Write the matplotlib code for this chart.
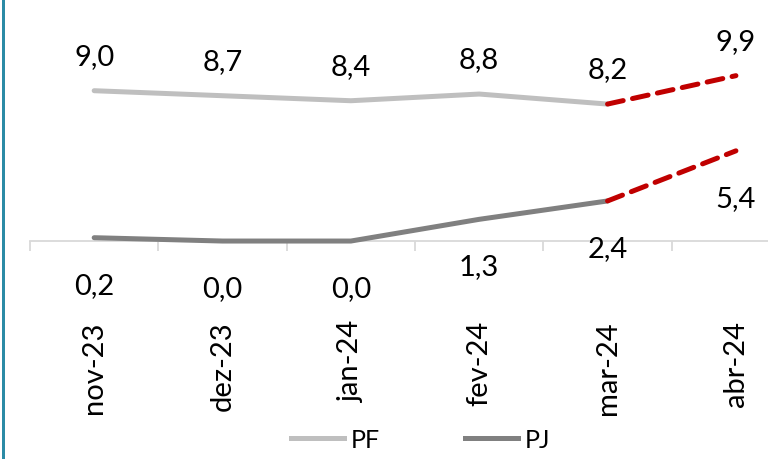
import matplotlib.pyplot as plt
from matplotlib.patches import Rectangle
from matplotlib.lines import Line2D

plt.rcParams['font.family'] = ['Lato', 'DejaVu Sans']

# dados
meses = ['nov-23', 'dez-23', 'jan-24', 'fev-24', 'mar-24', 'abr-24']
pf = [9.0, 8.7, 8.4, 8.8, 8.2, 9.9]
pj = [0.2, 0.0, 0.0, 1.3, 2.4, 5.4]

cor_pf = '#BFBFBF'
cor_pj = '#808080'
cor_proj = '#C00000'

W, H = 768, 460
fig = plt.figure(figsize=(W / 100, H / 100), dpi=100)
# eixo: topo em y=0px, base em y=300px, x de 30px ate a borda direita
ax = fig.add_axes([30 / W, (H - 300) / H, (W - 30) / W, 300 / H])

x = list(range(len(meses)))

# parte realizada (linha cheia) e projecao (tracejado vermelho)
ax.plot(x[:5], pf[:5], color=cor_pf, lw=3.6, solid_capstyle='round', label='PF', zorder=3)
ax.plot(x[:5], pj[:5], color=cor_pj, lw=3.6, solid_capstyle='round', label='PJ', zorder=3)
for serie in (pf, pj):
    l, = ax.plot(x[4:], serie[4:], color=cor_proj, lw=3.6, dash_capstyle='round', zorder=4)
    l.set_dashes([3.2, 1.9])

# rotulos de dados
for i, v in enumerate(pf):
    ax.annotate(f'{v:.1f}'.replace('.', ','), (x[i], v), xytext=(0, 19.5),
                textcoords='offset points', ha='center', va='baseline', fontsize=21)
for i, v in enumerate(pj):
    ax.annotate(f'{v:.1f}'.replace('.', ','), (x[i], v), xytext=(0, -39.5),
                textcoords='offset points', ha='center', va='baseline', fontsize=21)

for s in ['top', 'right', 'left']:
    ax.spines[s].set_visible(False)
ax.spines['bottom'].set_position(('data', 0))
ax.spines['bottom'].set_color('#D9D9D9')
ax.spines['bottom'].set_linewidth(1.3)
ax.set_yticks([])

ax.set_xticks(x)
ax.set_xticklabels(meses, rotation=90, fontsize=21)
ax.set_xticks([i - 0.5 for i in range(7)], minor=True)
ax.tick_params(axis='x', which='major', length=0, pad=57)
ax.tick_params(axis='x', which='minor', length=7, width=1.3, color='#D9D9D9', direction='out')

# limites depois dos ticks (set_xticks amplia a vista)
ax.set_xlim(-0.5, 5.25)
ax.set_ylim(-3.47, 14.49)

handles = [Line2D([], [], color=cor_pf, lw=3.6), Line2D([], [], color=cor_pj, lw=3.6)]
fig.legend(handles, ['PF', 'PJ'], loc='center', bbox_to_anchor=(0.548, 0.043), ncol=2,
           frameon=False, fontsize=18, handlelength=2.1, handletextpad=0.3, columnspacing=3.4)

# borda lateral
fig.add_artist(Rectangle((2 / W, 0), 3 / W, 1, transform=fig.transFigure,
                         color='#2B8BA6', lw=0))

fig.savefig('out.png', dpi=100)
